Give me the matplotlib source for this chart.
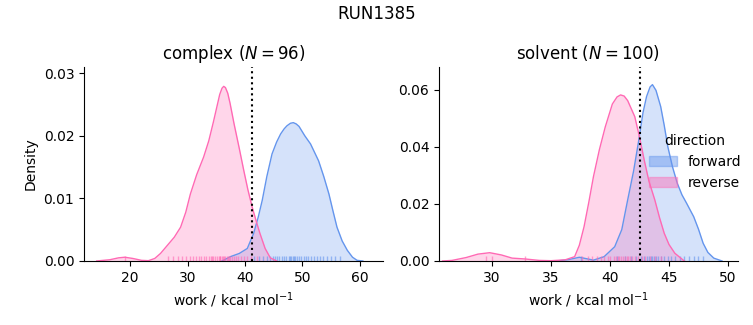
import matplotlib
matplotlib.use("Agg")
import matplotlib.pyplot as plt
import seaborn as sns
from matplotlib.patches import Patch

# density curves (work in kcal/mol)
cplx_rev_x = [14.2, 16.5, 18, 19.1, 20.5, 22, 23.2, 24.3, 25.3, 26.5, 27.7, 28.8, 29.7, 30.5,
              31.6, 32.8, 33.7, 34.5, 35.2, 35.6, 36.0, 36.3, 36.6, 37.0, 37.4, 38.1, 39.0,
              39.8, 40.5, 41.25, 42.0, 42.6, 43.5, 44.4, 45.5]
cplx_rev_y = [0, 0.0002, 0.0005, 0.0006, 0.0004, 0.0001, 0.00005, 0.0004, 0.0012, 0.0025,
              0.0038, 0.0054, 0.0078, 0.0107, 0.0138, 0.0166, 0.0192, 0.0222, 0.025, 0.0266,
              0.0276, 0.0279, 0.0277, 0.0268, 0.0252, 0.0219, 0.0180, 0.0144, 0.0114, 0.0086,
              0.0062, 0.0044, 0.0020, 0.0005, 0.0]
cplx_fwd_x = [36, 37.5, 39, 40.4, 41.5, 42.3, 43, 43.8, 44.7, 45.5, 46.2, 46.8, 47.3, 47.9,
              48.4, 48.9, 49.4, 50.4, 51.4, 52.8, 53.7, 54.6, 55.3, 56.0, 56.9, 57.8, 58.7,
              59.5, 60.5]
cplx_fwd_y = [0, 0.0007, 0.0012, 0.002, 0.0044, 0.0070, 0.0097, 0.0135, 0.0171, 0.0190, 0.0203,
              0.0211, 0.0216, 0.0220, 0.0221, 0.0219, 0.0215, 0.0200, 0.0187, 0.0160, 0.0135,
              0.0107, 0.0080, 0.0054, 0.0032, 0.0017, 0.0006, 0.0001, 0]

solv_rev_x = [25.8, 26.6, 27.8, 28.8, 29.8, 30.8, 31.7, 32.8, 34, 35, 36.2, 37.0, 37.4, 37.8,
              38.2, 38.6, 39.1, 39.6, 40.2, 40.6, 40.9, 41.2, 41.5, 42.1, 42.5, 42.9, 43.3,
              43.8, 44.2, 44.6, 45.0, 45.5, 46.3]
solv_rev_y = [0, 0.0002, 0.0012, 0.0024, 0.0029, 0.0021, 0.0010, 0.0007, 0.0002, 0.0001, 0.0004,
              0.0015, 0.0055, 0.012, 0.0205, 0.0296, 0.039, 0.047, 0.055, 0.0575, 0.0582,
              0.0578, 0.0562, 0.0506, 0.0435, 0.0354, 0.0280, 0.0214, 0.0152, 0.0097, 0.0058,
              0.0027, 0.0]
solv_fwd_x = [35.5, 36.5, 37.4, 38.0, 38.6, 39.5, 40.4, 41.0, 41.5, 42.0, 42.4, 42.8, 43.1, 43.4,
              43.6, 43.9, 44.3, 44.6, 44.9, 45.3, 45.7, 46.1, 46.5, 47.1, 47.5, 47.9, 48.3,
              48.8, 49.5]
solv_fwd_y = [0, 0.0005, 0.0013, 0.0008, 0.0003, 0.0015, 0.005, 0.011, 0.0214, 0.0315, 0.0413,
              0.052, 0.0576, 0.0610, 0.0618, 0.0598, 0.0541, 0.0475, 0.0401, 0.0330, 0.0273,
              0.0232, 0.0202, 0.0155, 0.0112, 0.0062, 0.0030, 0.0010, 0]

# rug samples (approximate)
cplx_rev_rug = [19.2, 26.6, 27.4, 28.3, 29.0, 29.8, 30.4, 31.0, 31.5, 32.0, 32.4, 32.9, 33.3,
                33.7, 34.0, 34.2, 34.4, 34.8, 35.1, 35.4, 35.6, 35.7, 36.0, 36.2, 36.4, 36.5,
                36.8, 37.1, 37.3, 37.4, 37.7, 38.0, 38.4, 38.8, 39.3, 39.8, 40.4, 41.0, 42.0]
cplx_fwd_rug = [41.6, 42.5, 43.2, 43.8, 44.3, 44.8, 45.2, 45.6, 46.0, 46.4, 46.8, 47.2, 47.6,
                47.8, 48.0, 48.3, 48.5, 48.7, 49.0, 49.4, 49.8, 50.2, 50.6, 51.0, 51.5, 52.0,
                52.5, 53.0, 53.6, 54.2, 54.9, 55.6, 56.5]
solv_rev_rug = [29.5, 30.0, 32.8, 37.6, 38.1, 38.5, 38.9, 39.2, 39.5, 39.8, 40.0, 40.3, 40.5,
                40.7, 40.8, 40.9, 41.1, 41.3, 41.4, 41.5, 41.7, 41.9, 42.1, 42.4, 42.7, 43.0,
                43.4, 43.8, 44.3]
solv_fwd_rug = [37.5, 40.6, 41.3, 41.8, 42.2, 42.6, 42.9, 43.1, 43.3, 43.5, 43.6, 43.7, 43.9,
                44.1, 44.3, 44.6, 44.9, 45.2, 45.5, 45.9, 46.3, 46.7, 47.1, 47.5, 47.9]

dg_complex = 41.2
dg_solvent = 42.55

fwd_col = "#6495ED"
rev_col = "#FF69B4"

fig = plt.figure(figsize=(7.53, 3.25), dpi=100)
ax1 = fig.add_axes([0.1116, 0.197, 0.397, 0.597])
ax2 = fig.add_axes([0.583, 0.197, 0.397, 0.597])


def draw(ax, fx, fy, rx, ry, frug, rrug):
    for x, y, rug, c in [(fx, fy, frug, fwd_col), (rx, ry, rrug, rev_col)]:
        ax.fill_between(x, y, color=c, alpha=0.27, lw=0)
        ax.plot(x, y, color=c, lw=1)
        sns.rugplot(x=rug, ax=ax, color=c, height=0.025, alpha=0.6, lw=0.9)


draw(ax1, cplx_fwd_x, cplx_fwd_y, cplx_rev_x, cplx_rev_y, cplx_fwd_rug, cplx_rev_rug)
draw(ax2, solv_fwd_x, solv_fwd_y, solv_rev_x, solv_rev_y, solv_fwd_rug, solv_rev_rug)

ax1.axvline(dg_complex, color="k", ls=":", lw=1.5)
ax2.axvline(dg_solvent, color="k", ls=":", lw=1.5)

ax1.set_xlim(12, 64)
ax1.set_ylim(0, 0.031)
ax1.set_yticks([0, 0.01, 0.02, 0.03])
ax1.set_xticks([20, 30, 40, 50, 60])
ax2.set_xlim(25.5, 50.85)
ax2.set_ylim(0, 0.068)
ax2.set_yticks([0, 0.02, 0.04, 0.06])
ax2.set_xticks([30, 35, 40, 45, 50])

ax1.set_title("complex ($N = 96$)", fontsize=12)
ax2.set_title("solvent ($N = 100$)", fontsize=12)
ax1.set_ylabel("Density")
for ax in (ax1, ax2):
    ax.set_xlabel("work / kcal mol$^{-1}$")
    ax.spines["top"].set_visible(False)
    ax.spines["right"].set_visible(False)

handles = [Patch(facecolor=fwd_col, edgecolor=fwd_col, alpha=0.45, label="forward"),
           Patch(facecolor=rev_col, edgecolor=rev_col, alpha=0.45, label="reverse")]
ax2.legend(handles=handles, title="direction", loc="center left",
           bbox_to_anchor=(0.66, 0.51), frameon=False)

fig.suptitle("RUN1385", fontsize=12, y=0.985)
fig.savefig("out.png", dpi=100)
